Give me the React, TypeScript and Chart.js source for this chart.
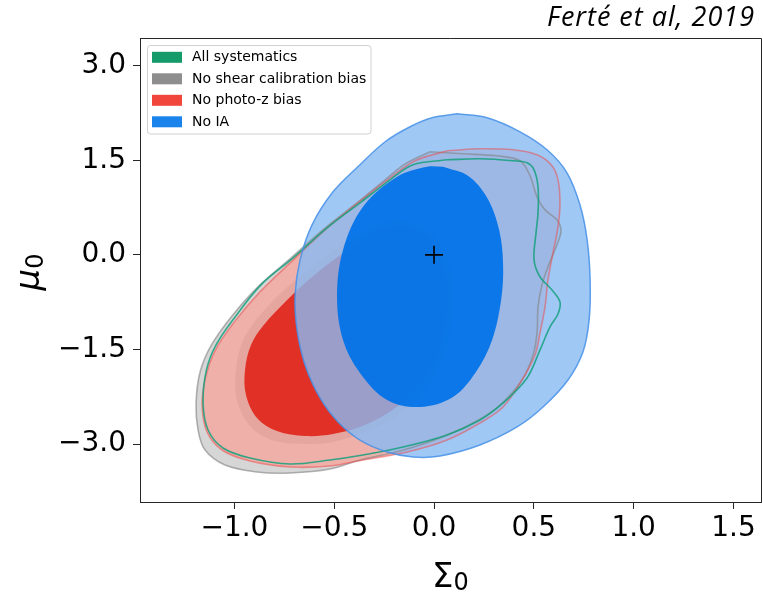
import React, { useEffect, useRef } from "react";
import { Chart, registerables } from "chart.js";

Chart.register(...registerables);

// ---------- data ----------
const SERIES_LABELS = ["All systematics", "No shear calibration bias", "No photo-z bias", "No IA"];
const SERIES_COLORS = ["#149b69", "#8e8e8e", "#f0463c", "#1a84ec"];
const TITLE = "Ferté et al, 2019";
const X_TICKS = [-1.0, -0.5, 0.0, 0.5, 1.0, 1.5];
const Y_TICKS = [-3.0, -1.5, 0.0, 1.5, 3.0];
const X_RANGE = [-1.473, 1.638];
const Y_RANGE = [-3.92, 3.44];
const FIDUCIAL = [[0, 0]];

// No IA (blue) 95% and 68% contours
const NO_IA_95 = [
  [0.115, 2.238], [0.266, 2.175], [0.431, 1.952], [0.566, 1.667], [0.666, 1.302], [0.731, 0.794],
  [0.767, 0.238], [0.782, -0.397], [0.777, -1.032], [0.746, -1.54], [0.671, -1.984], [0.546, -2.413],
  [0.416, -2.73], [0.23, -3.016], [0.03, -3.19], [-0.105, -3.206], [-0.235, -3.127], [-0.371, -2.937],
  [-0.481, -2.651], [-0.571, -2.27], [-0.646, -1.746], [-0.686, -1.19], [-0.696, -0.635], [-0.671, -0.079],
  [-0.611, 0.476], [-0.506, 1.0], [-0.371, 1.429], [-0.245, 1.794], [-0.12, 2.032], [-0.01, 2.175],
];
const NO_IA_68 = [
  [0.045, 1.397], [0.17, 1.254], [0.266, 0.905], [0.326, 0.397], [0.346, -0.159], [0.336, -0.714],
  [0.291, -1.349], [0.21, -1.857], [0.095, -2.254], [-0.07, -2.413], [-0.235, -2.302], [-0.371, -1.873],
  [-0.456, -1.349], [-0.486, -0.667], [-0.456, 0.079], [-0.356, 0.762], [-0.185, 1.238], [-0.035, 1.397],
];

// No photo-z bias (red)
const PHOTOZ_95 = [
  [0.065, 1.651], [0.23, 1.683], [0.396, 1.667], [0.516, 1.587], [0.591, 1.413], [0.621, 1.19],
  [0.631, 0.825], [0.621, 0.444], [0.596, 0.032], [0.571, -0.397], [0.556, -0.825], [0.531, -1.238],
  [0.506, -1.587], [0.441, -1.984], [0.346, -2.413], [0.23, -2.667], [0.065, -2.937], [-0.135, -3.127],
  [-0.356, -3.254], [-0.521, -3.349], [-0.721, -3.365], [-0.922, -3.27], [-1.062, -3.095], [-1.137, -2.81],
  [-1.162, -2.381], [-1.145, -1.952], [-1.095, -1.508], [-1.0, -1.063], [-0.872, -0.587], [-0.716, -0.111],
  [-0.546, 0.397], [-0.381, 0.825], [-0.22, 1.222], [-0.095, 1.492],
];
const PHOTOZ_68 = [
  [-0.17, 0.476], [-0.035, 0.302], [0.045, -0.111], [0.07, -0.714], [0.03, -1.508], [-0.07, -2.063],
  [-0.195, -2.429], [-0.346, -2.698], [-0.506, -2.841], [-0.646, -2.873], [-0.787, -2.794], [-0.887, -2.587],
  [-0.942, -2.222], [-0.947, -1.825], [-0.917, -1.429], [-0.857, -1.127], [-0.736, -0.714], [-0.581, -0.27],
  [-0.411, 0.127], [-0.296, 0.381],
];

// No shear calibration bias (grey)
const SHEAR_95 = [
  [-0.02, 1.635], [0.145, 1.603], [0.316, 1.571], [0.431, 1.492], [0.481, 1.254], [0.516, 0.921],
  [0.556, 0.714], [0.616, 0.556], [0.636, 0.381], [0.616, 0.159], [0.571, -0.19], [0.541, -0.476],
  [0.521, -0.825], [0.516, -1.238], [0.496, -1.587], [0.441, -1.984], [0.331, -2.381], [0.205, -2.651],
  [0.03, -2.905], [-0.17, -3.111], [-0.371, -3.254], [-0.521, -3.397], [-0.721, -3.46], [-0.887, -3.444],
  [-1.047, -3.333], [-1.147, -3.095], [-1.182, -2.778], [-1.192, -2.349], [-1.172, -1.857], [-1.115, -1.429],
  [-1.012, -0.968], [-0.877, -0.492], [-0.716, -0.048], [-0.551, 0.413], [-0.386, 0.825], [-0.245, 1.19],
  [-0.145, 1.444],
];
const SHEAR_68 = [
  [-0.17, 0.556], [-0.02, 0.365], [0.07, -0.111], [0.095, -0.714], [0.055, -1.54], [-0.045, -2.143],
  [-0.18, -2.54], [-0.346, -2.81], [-0.506, -2.968], [-0.656, -3.0], [-0.812, -2.937], [-0.922, -2.714],
  [-0.987, -2.302], [-0.992, -1.825], [-0.962, -1.397], [-0.892, -1.032], [-0.767, -0.603], [-0.601, -0.159],
  [-0.426, 0.222], [-0.296, 0.46],
];

// All systematics (green) 95% contour
const ALLSYS_95 = [
  [0.065, 1.508], [0.23, 1.524], [0.396, 1.492], [0.466, 1.46], [0.501, 1.349], [0.521, 1.079],
  [0.521, 0.667], [0.511, 0.349], [0.501, -0.079], [0.531, -0.349], [0.591, -0.556], [0.631, -0.746],
  [0.621, -0.937], [0.581, -1.143], [0.531, -1.508], [0.466, -1.952], [0.346, -2.349], [0.23, -2.619],
  [0.065, -2.857], [-0.155, -3.048], [-0.356, -3.175], [-0.521, -3.254], [-0.721, -3.317], [-0.922, -3.222],
  [-1.057, -3.063], [-1.132, -2.778], [-1.157, -2.349], [-1.14, -1.825], [-1.092, -1.429], [-1.0, -1.0],
  [-0.867, -0.476], [-0.706, -0.048], [-0.536, 0.429], [-0.371, 0.825], [-0.22, 1.19], [-0.105, 1.429],
];

// ---------- helpers ----------
const closed = (pts: number[][]) => [...pts, pts[0]].map(([x, y]) => ({ x, y }));

const fillSet = (pts: number[][], color: string, order: number) => ({
  data: closed(pts),
  showLine: true,
  fill: "shape",
  backgroundColor: color,
  borderWidth: 0,
  borderColor: "rgba(0,0,0,0)",
  pointRadius: 0,
  tension: 0.35,
  order,
});

const lineSet = (pts: number[][], color: string, order: number, width = 1.6) => ({
  data: closed(pts),
  showLine: true,
  fill: false,
  borderColor: color,
  borderWidth: width,
  pointRadius: 0,
  tension: 0.35,
  order,
});

const fmt = (v: number) => Number(v).toFixed(1).replace("-", "\u2212");

const decorPlugin = {
  id: "decor",
  afterDraw(chart: any) {
    const ctx = chart.ctx as CanvasRenderingContext2D;
    const a = chart.chartArea;
    ctx.save();
    // top & right spines
    ctx.strokeStyle = "#262626";
    ctx.lineWidth = 1;
    ctx.beginPath();
    ctx.moveTo(a.left, 38.5);
    ctx.lineTo(a.right + 0.5, 38.5);
    ctx.lineTo(a.right + 0.5, a.bottom);
    ctx.stroke();

    // legend box
    const bx = 147.5, by = 45.5, bw = 223.5, bh = 88.5, r = 3;
    ctx.beginPath();
    ctx.moveTo(bx + r, by);
    ctx.lineTo(bx + bw - r, by);
    ctx.quadraticCurveTo(bx + bw, by, bx + bw, by + r);
    ctx.lineTo(bx + bw, by + bh - r);
    ctx.quadraticCurveTo(bx + bw, by + bh, bx + bw - r, by + bh);
    ctx.lineTo(bx + r, by + bh);
    ctx.quadraticCurveTo(bx, by + bh, bx, by + bh - r);
    ctx.lineTo(bx, by + r);
    ctx.quadraticCurveTo(bx, by, bx + r, by);
    ctx.closePath();
    ctx.fillStyle = "rgba(255,255,255,0.85)";
    ctx.fill();
    ctx.strokeStyle = "#d0d0d0";
    ctx.stroke();
    ctx.font = '14px "DejaVu Sans"';
    ctx.textBaseline = "middle";
    ctx.textAlign = "left";
    SERIES_LABELS.forEach((lab, i) => {
      const cy = 57.3 + i * 21.5;
      ctx.fillStyle = SERIES_COLORS[i];
      ctx.fillRect(152, cy - 5.5, 30, 11);
      ctx.fillStyle = "#000";
      ctx.fillText(lab, 192, cy + 0.5);
    });

    // title
    ctx.font = 'italic 27px "Open Sans"';
    ctx.textAlign = "right";
    ctx.textBaseline = "alphabetic";
    ctx.fillStyle = "#000";
    try {
      (ctx as any).letterSpacing = "1px";
    } catch (e) {}
    ctx.fillText(TITLE, 755, 26);
    try {
      (ctx as any).letterSpacing = "0px";
    } catch (e) {}

    // x label  Σ0
    ctx.textAlign = "left";
    ctx.font = '34px "DejaVu Sans"';
    const w1 = ctx.measureText("Σ").width;
    ctx.font = '24px "DejaVu Sans"';
    const w2 = ctx.measureText("0").width;
    const cx = (a.left + a.right) / 2;
    const sx = cx - (w1 + w2) / 2;
    ctx.font = '34px "DejaVu Sans"';
    ctx.fillText("Σ", sx, 586.5);
    ctx.font = '24px "DejaVu Sans"';
    ctx.fillText("0", sx + w1, 590);

    // y label μ0
    ctx.font = 'italic 34px "DejaVu Sans"';
    const m1 = ctx.measureText("μ").width;
    ctx.translate(39, (a.top + a.bottom) / 2 + 2);
    ctx.rotate(-Math.PI / 2);
    const sy = -(m1 + w2) / 2;
    ctx.fillText("μ", sy, 0);
    ctx.font = '24px "DejaVu Sans"';
    ctx.fillText("0", sy + m1, 3.5);
    ctx.restore();
  },
};

export default function App() {
  const ref = useRef<HTMLCanvasElement | null>(null);
  useEffect(() => {
    if (!ref.current) return;
    const chart = new Chart(ref.current, {
      type: "scatter",
      data: {
        datasets: [
          fillSet(SHEAR_95, "rgba(128,128,128,0.32)", 100),
          fillSet(SHEAR_68, "rgba(128,128,128,0.25)", 99),
          fillSet(PHOTOZ_95, "rgba(255,150,140,0.6)", 98),
          fillSet(PHOTOZ_68, "rgba(225,45,35,0.97)", 97),
          fillSet(NO_IA_95, "rgba(136,186,243,0.8)", 96),
          fillSet(NO_IA_68, "rgba(0,114,232,0.92)", 95),
          lineSet(SHEAR_95, "rgba(130,130,130,0.6)", 90),
          lineSet(PHOTOZ_95, "rgba(235,80,80,0.55)", 89),
          lineSet(ALLSYS_95, "rgba(20,160,125,0.85)", 88),
          lineSet(NO_IA_95, "rgba(70,145,232,0.85)", 87, 1.5),
          {
            data: FIDUCIAL.map(([x, y]) => ({ x, y })),
            pointStyle: "cross",
            pointRadius: 9,
            borderColor: "#000",
            backgroundColor: "#000",
            borderWidth: 1.6,
            order: 0,
          },
        ] as any,
      },
      options: {
        animation: false,
        responsive: false,
        maintainAspectRatio: false,
        events: [],
        layout: { autoPadding: false, padding: { top: 38, right: 2, left: 0, bottom: 0 } },
        plugins: {
          legend: { display: false },
          tooltip: { enabled: false },
          title: { display: false },
        },
        scales: {
          x: {
            type: "linear",
            min: X_RANGE[0],
            max: X_RANGE[1],
            afterFit: (s: any) => {
              s.height = 92;
              s.paddingLeft = 0;
              s.paddingRight = 0;
            },
            afterBuildTicks: (s: any) => {
              s.ticks = X_TICKS.map((v) => ({ value: v }));
            },
            ticks: {
              callback: (v: any) => fmt(v),
              font: { family: "DejaVu Sans", size: 28 },
              color: "#000",
              padding: 3,
              maxRotation: 0,
              autoSkip: false,
            },
            grid: { drawOnChartArea: false, drawTicks: true, tickLength: 7, tickColor: "#262626", tickWidth: 1 },
            border: { display: true, color: "#262626", width: 1 },
          },
          y: {
            type: "linear",
            min: Y_RANGE[0],
            max: Y_RANGE[1],
            afterFit: (s: any) => {
              s.width = 140;
              s.paddingTop = 0;
              s.paddingBottom = 0;
            },
            afterBuildTicks: (s: any) => {
              s.ticks = Y_TICKS.map((v) => ({ value: v }));
            },
            ticks: {
              callback: (v: any) => fmt(v),
              font: { family: "DejaVu Sans", size: 28 },
              color: "#000",
              padding: 7,
              autoSkip: false,
            },
            grid: { drawOnChartArea: false, drawTicks: true, tickLength: 7, tickColor: "#262626", tickWidth: 1 },
            border: { display: true, color: "#262626", width: 1 },
          },
        },
      },
      plugins: [decorPlugin],
    });
    return () => chart.destroy();
  }, []);

  return (
    <div style={{ position: "fixed", left: 0, top: 0, width: 763, height: 594, background: "#fff" }}>
      <canvas ref={ref} width={763} height={594} style={{ width: 763, height: 594, display: "block" }} />
    </div>
  );
}
